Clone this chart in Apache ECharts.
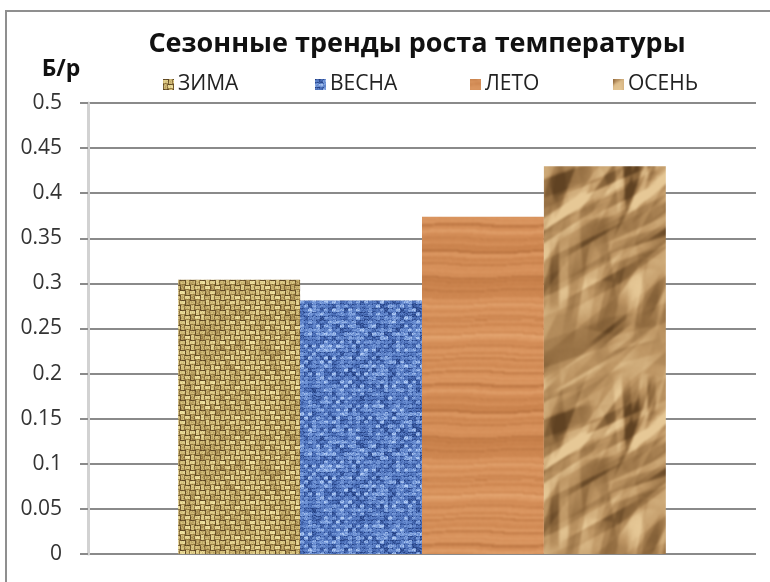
<!DOCTYPE html>
<html>
<head>
<meta charset="utf-8">
<script src="https://cdn.jsdelivr.net/npm/echarts@6/dist/echarts.min.js"></script>
<style>
  html, body { margin: 0; padding: 0; background: #fff; }
  #chart { width: 770px; height: 582px; }
</style>
</head>
<body>
<div id="chart"></div>
<script>
// Seasonal temperature-growth trends, one bar per season
const seasons = ['ЗИМА', 'ВЕСНА', 'ЛЕТО', 'ОСЕНЬ'];
const seasonValues = [0.304, 0.281, 0.374, 0.430];
const yTicks = [0, 0.05, 0.1, 0.15, 0.2, 0.25, 0.3, 0.35, 0.4, 0.45, 0.5];
const titleText = 'Сезонные тренды роста температуры';
const unitText = 'Б/р';

// ---- procedural, seamlessly tiling textures for the bar fills ----
function prng(seed) {
  return function () {
    seed |= 0; seed = seed + 0x6D2B79F5 | 0;
    let t = Math.imul(seed ^ seed >>> 15, 1 | seed);
    t = t + Math.imul(t ^ t >>> 7, 61 | t) ^ t;
    return ((t ^ t >>> 14) >>> 0) / 4294967296;
  };
}
function canvasOf(w, h) {
  const c = document.createElement('canvas');
  c.width = w; c.height = h;
  return c;
}
function mix(a, b, t) {
  return [a[0] + (b[0] - a[0]) * t, a[1] + (b[1] - a[1]) * t, a[2] + (b[2] - a[2]) * t];
}
function clamp(v) { return Math.max(0, Math.min(255, v)); }
function ramp(stops, t) {
  t = Math.max(0, Math.min(1, t));
  const n = stops.length - 1, k = Math.min(n - 1, Math.floor(t * n));
  return mix(stops[k], stops[k + 1], t * n - k);
}
// blur a tile while wrapping around its edges so it still repeats cleanly
function blurWrap(src, px) {
  const w = src.width, h = src.height;
  const big = canvasOf(w * 3, h * 3), bg = big.getContext('2d');
  for (let i = 0; i < 3; i++) for (let j = 0; j < 3; j++) bg.drawImage(src, i * w, j * h);
  const soft = canvasOf(w * 3, h * 3), sg = soft.getContext('2d');
  sg.filter = 'blur(' + px + 'px)';
  sg.drawImage(big, 0, 0);
  sg.filter = 'none';
  const out = canvasOf(w, h);
  out.getContext('2d').drawImage(soft, w, h, w, h, 0, 0, w, h);
  return out;
}
function pixelTile(w, h, fn) {
  const c = canvasOf(w, h), g = c.getContext('2d');
  const img = g.createImageData(w, h);
  for (let y = 0; y < h; y++) {
    for (let x = 0; x < w; x++) {
      const col = fn(x, y);
      const i = (y * w + x) * 4;
      img.data[i] = clamp(col[0]); img.data[i + 1] = clamp(col[1]);
      img.data[i + 2] = clamp(col[2]); img.data[i + 3] = 255;
    }
  }
  g.putImageData(img, 0, 0);
  return c;
}

// burlap weave (winter)
function burlap() {
  const r = prng(11), cell = 5, n = 24;
  const tone = [];
  for (let k = 0; k < n * n; k++) tone.push(r());
  const stops = [[92, 70, 34], [150, 122, 66], [206, 184, 116], [240, 226, 160]];
  const tile = pixelTile(n * cell, n * cell, function (x, y) {
    const cx = Math.floor(x / cell), cy = Math.floor(y / cell);
    const lx = x % cell, ly = y % cell;
    const t0 = tone[cy * n + cx];
    let t;
    if ((cx + cy) % 2 === 0) {
      t = ly === 0 ? 0.05 : (ly === cell - 1 ? 0.35 : 0.6 + t0 * 0.38);
    } else {
      t = lx === 0 ? 0.08 : (lx === cell - 1 ? 0.3 : 0.48 + t0 * 0.35);
    }
    t += (r() - 0.5) * 0.22;
    return ramp(stops, t);
  });
  return blurWrap(tile, 0.5);
}

// blue woven fabric (spring)
function fabric() {
  const r = prng(23), cell = 4, n = 30;
  const tone = [];
  for (let k = 0; k < n * n; k++) tone.push(r());
  const stops = [[34, 62, 128], [74, 110, 184], [112, 148, 214], [178, 204, 244]];
  const tile = pixelTile(n * cell, n * cell, function (x, y) {
    const cx = Math.floor(x / cell), cy = Math.floor(y / cell);
    const lx = x % cell, ly = y % cell;
    const t0 = tone[cy * n + cx];
    let t = 0.44 + (t0 - 0.5) * 0.6;
    if ((cx + cy) % 2 === 0 && ly > 0 && ly < cell - 1) t += 0.22;
    if (lx === 0 && ly === 0) t -= 0.35;
    t += (r() - 0.5) * 0.3;
    return ramp(stops, t);
  });
  return blurWrap(tile, 0.7);
}

// horizontal wood grain (summer)
function wood() {
  const r = prng(37), w = 240, h = 160;
  const rows = [];
  let acc = 0.5;
  for (let y = 0; y < h; y++) { acc = acc * 0.72 + r() * 0.28; rows.push(acc); }
  const stops = [[150, 84, 40], [196, 124, 70], [216, 146, 92], [234, 176, 124]];
  const tile = pixelTile(w, h, function (x, y) {
    const yy = Math.round(y + 1.5 * Math.sin(2 * Math.PI * x / w * 2 + y / 23));
    const ry = ((yy % h) + h) % h;
    let t = 0.18 + rows[ry] * 0.9 + (r() - 0.5) * 0.1;
    if (ry % 13 === 0) t -= 0.32;
    if (ry % 29 === 5) t -= 0.2;
    return ramp(stops, t);
  });
  return blurWrap(tile, 0.9);
}

// crumpled kraft paper (autumn): a height field of random folds, lit from the top-left
function crumpled() {
  const r = prng(71), w = 180, h = 240;
  const folds = [];
  for (let k = 0; k < 60; k++) {
    const ang = -0.95 + (r() - 0.5) * 1.6;
    folds.push({
      cx: r() * w, cy: r() * h,
      dx: Math.cos(ang), dy: Math.sin(ang),
      len: 20 + r() * 50, wd: 8 + r() * 22,
      amp: (r() < 0.5 ? -1 : 1) * (6 + r() * 12)
    });
  }
  const hf = new Float32Array(w * h);
  for (let y = 0; y < h; y++) {
    for (let x = 0; x < w; x++) {
      let s = 0;
      for (let k = 0; k < folds.length; k++) {
        const f = folds[k];
        let px = x - f.cx, py = y - f.cy;
        if (px > w / 2) px -= w; else if (px < -w / 2) px += w;
        if (py > h / 2) py -= h; else if (py < -h / 2) py += h;
        const along = px * f.dx + py * f.dy;
        if (Math.abs(along) >= f.len) continue;
        const across = Math.abs(-px * f.dy + py * f.dx);
        if (across >= f.wd) continue;
        const q = along / f.len;
        s += f.amp * (1 - across / f.wd) * (1 - q * q);
      }
      hf[y * w + x] = s;
    }
  }
  const stops = [[96, 66, 34], [146, 108, 64], [190, 150, 100], [230, 200, 150]];
  const tile = pixelTile(w, h, function (x, y) {
    const xl = (x - 1 + w) % w, xr = (x + 1) % w, yu = (y - 1 + h) % h, yd = (y + 1) % h;
    const gx = (hf[y * w + xr] - hf[y * w + xl]) / 2;
    const gy = (hf[yd * w + x] - hf[yu * w + x]) / 2;
    let t = 0.58 - (gx * 0.55 + gy * 0.45) * 0.32 + (r() - 0.5) * 0.05;
    return ramp(stops, t);
  });
  return blurWrap(tile, 1.2);
}

const fills = [burlap(), fabric(), wood(), crumpled()].map(function (img) {
  return { image: img, repeat: 'repeat' };
});

const chart = echarts.init(document.getElementById('chart'), null, { renderer: 'canvas' });

const legendLeft = [158, 310, 465, 608];
const fontFamily = "'Open Sans', 'Noto Sans', sans-serif";

chart.setOption({
  animation: false,
  backgroundColor: '#ffffff',
  title: {
    text: titleText,
    left: 412,
    textAlign: 'center',
    top: 26,
    textStyle: { fontFamily: fontFamily, fontSize: 27, fontWeight: 'bold', color: '#111' }
  },
  legend: seasons.map(function (s, i) {
    return {
      data: [s],
      left: legendLeft[i],
      top: 69,
      icon: 'rect',
      itemWidth: 11,
      itemHeight: 11,
      itemGap: 0,
      textStyle: { fontFamily: fontFamily, fontSize: 21, color: '#222', padding: [0, 0, 0, -1] }
    };
  }),
  graphic: [
    {
      type: 'rect',
      shape: { x: 6, y: 11, width: 820, height: 640 },
      style: { fill: 'none', stroke: '#8f8f8f', lineWidth: 2 },
      silent: true
    },
    {
      type: 'text',
      style: {
        text: unitText, x: 61, y: 69, align: 'center', verticalAlign: 'middle',
        font: "bold 23px 'Open Sans', 'Noto Sans', sans-serif", fill: '#111'
      }
    }
  ],
  grid: { left: 88, right: 14, top: 103, bottom: 28, containLabel: false },
  xAxis: {
    type: 'category',
    data: [''],
    axisLine: { show: false },
    axisTick: { show: false },
    axisLabel: { show: false }
  },
  yAxis: {
    type: 'value',
    min: yTicks[0],
    max: yTicks[yTicks.length - 1],
    interval: 0.05,
    axisLine: { show: true, lineStyle: { color: '#d2d2d2', width: 3 } },
    axisTick: { show: true, length: 8, lineStyle: { color: '#8a8a8a', width: 2 } },
    axisLabel: {
      margin: 26,
      fontFamily: fontFamily, fontSize: 21, color: '#333'
    },
    splitLine: { show: true, lineStyle: { color: '#8a8a8a', width: 2 } }
  },
  series: seasons.map(function (s, i) {
    return {
      name: s,
      type: 'bar',
      data: [seasonValues[i]],
      barGap: '0%',
      barCategoryGap: '27%',
      itemStyle: { color: fills[i] }
    };
  })
});
</script>
</body>
</html>
